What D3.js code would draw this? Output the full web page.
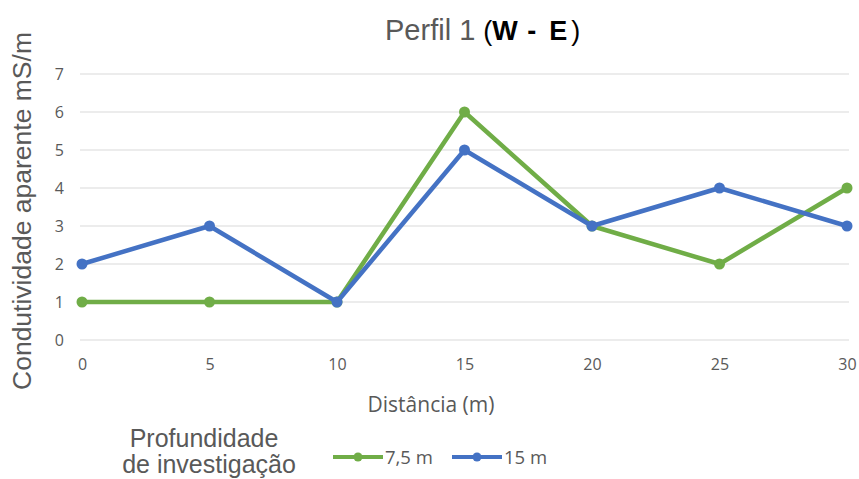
<!DOCTYPE html>
<html>
<head>
<meta charset="utf-8">
<script src="https://cdn.jsdelivr.net/npm/d3@7"></script>
<style>
  body { margin: 0; background: #fff; }
  svg { display: block; }
</style>
</head>
<body>
<svg id="chart" width="859" height="479"></svg>
<script>
// Distance along the profile (m)
const distances = [0, 5, 10, 15, 20, 25, 30];
// Apparent conductivity (mS/m) at each investigation depth
const depth75 = [1, 1, 1, 6, 3, 2, 4];
const depth15 = [2, 3, 1, 5, 3, 4, 3];
const yTicks = [0, 1, 2, 3, 4, 5, 6, 7];
const seriesNames = ["7,5 m", "15 m"];
const seriesColors = ["#70AD47", "#4472C4"];

const svg = d3.select("#chart");
const margin = { left: 82, right: 12, top: 74, bottom: 139 };
const W = 859, H = 479;

const x = d3.scaleLinear().domain([0, 30]).range([margin.left, W - margin.right]);
const y = d3.scaleLinear().domain([0, 7]).range([H - margin.bottom, margin.top]);

const gray = "#595959";
const tickFont = "Open Sans, sans-serif";
const arial = "Liberation Sans, Arial, sans-serif";

// Horizontal gridlines
svg.append("g")
  .selectAll("line")
  .data(yTicks)
  .join("line")
  .attr("x1", x(0) - 2)
  .attr("x2", x(30) + 2)
  .attr("y1", d => y(d))
  .attr("y2", d => y(d))
  .attr("stroke", "#d9d9d9")
  .attr("stroke-width", 1);

// Y axis labels
const yAxis = d3.axisLeft(y).tickValues(yTicks).tickFormat(d3.format("d")).tickSize(0).tickPadding(0);
svg.append("g")
  .attr("transform", `translate(${x(0) - 18},0)`)
  .call(yAxis)
  .call(g => g.select(".domain").remove())
  .call(g => g.selectAll("text")
    .attr("fill", gray)
    .attr("font-family", tickFont)
    .attr("font-size", 16));

// X axis labels
const xAxis = d3.axisBottom(x).tickValues(distances).tickFormat(d3.format("d")).tickSize(0).tickPadding(0);
svg.append("g")
  .attr("transform", `translate(0,${y(0) + 19})`)
  .call(xAxis)
  .call(g => g.select(".domain").remove())
  .call(g => g.selectAll("text")
    .attr("fill", gray)
    .attr("font-family", tickFont)
    .attr("font-size", 16));

// Series lines and markers
const series = [depth75, depth15];
const line = d3.line().x((d, i) => x(distances[i])).y(d => y(d));

series.forEach((vals, si) => {
  const g = svg.append("g");
  g.append("path")
    .datum(vals)
    .attr("d", line)
    .attr("fill", "none")
    .attr("stroke", seriesColors[si])
    .attr("stroke-width", 4.5)
    .attr("stroke-linejoin", "round");
  g.selectAll("circle")
    .data(vals)
    .join("circle")
    .attr("cx", (d, i) => x(distances[i]))
    .attr("cy", d => y(d))
    .attr("r", 5.5)
    .attr("fill", seriesColors[si]);
});

// Title
const title = svg.append("text")
  .attr("x", 385)
  .attr("y", 40)
  .attr("font-family", arial);
title.append("tspan").text("Perfil 1 ").attr("fill", gray).attr("font-size", 29);
title.append("tspan").text("(").attr("fill", "#000").attr("font-size", 27);
title.append("tspan").text("W").attr("fill", "#000").attr("font-size", 27).attr("font-weight", "bold");
title.append("tspan").text("-").attr("dx", 10).attr("fill", "#000").attr("font-size", 27).attr("font-weight", "bold");
title.append("tspan").text("E").attr("dx", 13).attr("fill", "#000").attr("font-size", 27).attr("font-weight", "bold");
title.append("tspan").text(")").attr("dx", 4).attr("fill", "#000").attr("font-size", 27);

// X axis title
svg.append("text")
  .attr("x", 431)
  .attr("y", 412)
  .attr("text-anchor", "middle")
  .attr("fill", gray)
  .attr("font-family", tickFont)
  .attr("font-size", 21)
  .text("Distância (m)");

// Y axis title
svg.append("text")
  .attr("transform", `translate(31,211) rotate(-90)`)
  .attr("text-anchor", "middle")
  .attr("fill", gray)
  .attr("font-family", arial)
  .attr("font-size", 26.5)
  .text("Condutividade aparente mS/m");

// Legend title
const lt = svg.append("text")
  .attr("text-anchor", "middle")
  .attr("fill", gray)
  .attr("font-family", arial)
  .attr("font-size", 25);
lt.append("tspan").attr("x", 204).attr("y", 447).text("Profundidade");
lt.append("tspan").attr("x", 209).attr("y", 473).text("de investigação");

// Legend entries
const legendX = [333, 452];
seriesNames.forEach((name, i) => {
  const g = svg.append("g").attr("transform", `translate(${legendX[i]},457)`);
  g.append("line")
    .attr("x1", 0).attr("x2", 50)
    .attr("stroke", seriesColors[i])
    .attr("stroke-width", 4);
  g.append("circle").attr("cx", 25).attr("r", 4.5).attr("fill", seriesColors[i]);
  g.append("text")
    .attr("x", 52)
    .attr("y", 6.5)
    .attr("fill", gray)
    .attr("font-family", tickFont)
    .attr("font-size", 18.5)
    .text(name);
});
</script>
</body>
</html>
